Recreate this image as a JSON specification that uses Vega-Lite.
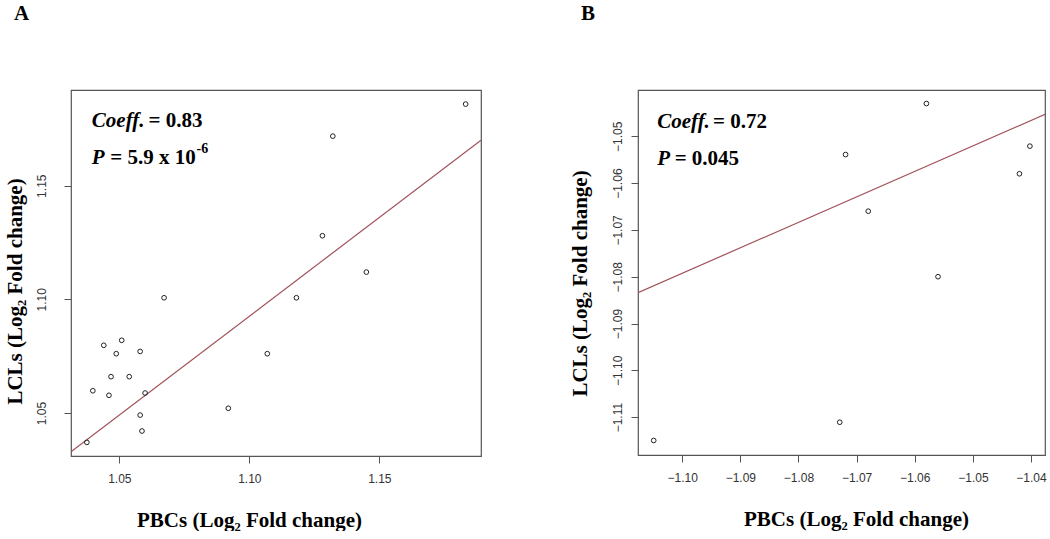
{
  "$schema": "https://vega.github.io/schema/vega-lite/v6.json",
  "background": "white",
  "padding": {"left": 3, "top": 2, "right": 0, "bottom": 0},
  "spacing": 86,
  "datasets": {
    "ptsA": [
      {"pbc": 1.1832, "lcl": 1.1859}, {"pbc": 1.1321, "lcl": 1.1718}, {"pbc": 1.1281, "lcl": 1.128},
      {"pbc": 1.145, "lcl": 1.112}, {"pbc": 1.1181, "lcl": 1.1007}, {"pbc": 1.0672, "lcl": 1.1007},
      {"pbc": 1.1069, "lcl": 1.0761}, {"pbc": 1.0919, "lcl": 1.0521}, {"pbc": 1.044, "lcl": 1.0798},
      {"pbc": 1.0509, "lcl": 1.082}, {"pbc": 1.0488, "lcl": 1.0761}, {"pbc": 1.058, "lcl": 1.0771},
      {"pbc": 1.0468, "lcl": 1.066}, {"pbc": 1.0538, "lcl": 1.066}, {"pbc": 1.0398, "lcl": 1.0598},
      {"pbc": 1.046, "lcl": 1.0578}, {"pbc": 1.0599, "lcl": 1.0588}, {"pbc": 1.058, "lcl": 1.0491},
      {"pbc": 1.0587, "lcl": 1.0421}, {"pbc": 1.0375, "lcl": 1.0371}
    ],
    "fitA": [{"pbc": 1.0314, "lcl": 1.033}, {"pbc": 1.1891, "lcl": 1.17}],
    "txtA": [
      {"part": "name", "pbc": 1.0394, "lcl": 1.1759, "t": "Coeff."},
      {"part": "value", "pbc": 1.0612, "lcl": 1.1759, "t": "= 0.83"},
      {"part": "name", "pbc": 1.0394, "lcl": 1.1595, "t": "P"},
      {"part": "value", "pbc": 1.0465, "lcl": 1.1595, "t": "= 5.9 x 10"},
      {"part": "exp", "pbc": 1.0797, "lcl": 1.1642, "t": "-6"}
    ],
    "ptsB": [
      {"pbc": -1.058, "lcl": -1.043}, {"pbc": -1.0719, "lcl": -1.0539}, {"pbc": -1.0402, "lcl": -1.0521},
      {"pbc": -1.042, "lcl": -1.058}, {"pbc": -1.068, "lcl": -1.066}, {"pbc": -1.056, "lcl": -1.08},
      {"pbc": -1.0729, "lcl": -1.1111}, {"pbc": -1.1049, "lcl": -1.115}
    ],
    "fitB": [{"pbc": -1.1076, "lcl": -1.0834}, {"pbc": -1.0376, "lcl": -1.0453}],
    "txtB": [
      {"part": "name", "pbc": -1.1043, "lcl": -1.0482, "t": "Coeff."},
      {"part": "value", "pbc": -1.0947, "lcl": -1.0482, "t": "= 0.72"},
      {"part": "name", "pbc": -1.1043, "lcl": -1.0562, "t": "P"},
      {"part": "value", "pbc": -1.1013, "lcl": -1.0562, "t": "= 0.045"}
    ]
  },
  "hconcat": [
    {
      "width": 410,
      "height": 366,
      "title": {"text": "A", "anchor": "start", "frame": "bounds", "dx": 10, "offset": 66, "font": "Liberation Serif", "fontSize": 21, "fontWeight": "bold", "color": "black"},
      "encoding": {
        "x": {"field": "pbc", "type": "quantitative",
          "scale": {"domain": [1.0314, 1.1891], "nice": false, "zero": false},
          "axis": {"title": "PBCs (Log₂ Fold change)", "values": [1.05, 1.1, 1.15], "format": ".2f", "labelPadding": 10, "titlePadding": 25, "titleX": 178}},
        "y": {"field": "lcl", "type": "quantitative",
          "scale": {"domain": [1.0311, 1.1921], "nice": false, "zero": false},
          "axis": {"title": "LCLs (Log₂ Fold change)", "values": [1.05, 1.1, 1.15], "format": ".2f", "labelAngle": -90, "labelPadding": 16, "titlePadding": 10, "titleY": 201}}
      },
      "layer": [
        {"data": {"name": "fitA"}, "mark": {"type": "line", "color": "#a0525a", "strokeWidth": 1.2, "clip": true}},
        {"data": {"name": "ptsA"}, "mark": {"type": "point", "shape": "circle", "filled": false, "size": 22, "stroke": "#222", "strokeWidth": 1, "opacity": 1}},
        {"data": {"name": "txtA"}, "transform": [{"filter": "datum.part == 'name'"}], "mark": {"type": "text", "align": "left", "baseline": "alphabetic", "font": "Liberation Serif", "fontSize": 21, "fontWeight": "bold", "fontStyle": "italic", "color": "black"}, "encoding": {"text": {"field": "t"}}},
        {"data": {"name": "txtA"}, "transform": [{"filter": "datum.part == 'value'"}], "mark": {"type": "text", "align": "left", "baseline": "alphabetic", "font": "Liberation Serif", "fontSize": 21, "fontWeight": "bold", "color": "black"}, "encoding": {"text": {"field": "t"}}},
        {"data": {"name": "txtA"}, "transform": [{"filter": "datum.part == 'exp'"}], "mark": {"type": "text", "align": "left", "baseline": "alphabetic", "font": "Liberation Serif", "fontSize": 14, "fontWeight": "bold", "color": "black"}, "encoding": {"text": {"field": "t"}}}
      ]
    },
    {
      "width": 407,
      "height": 365,
      "title": {"text": "B", "anchor": "start", "frame": "bounds", "dx": 12, "offset": 66, "font": "Liberation Serif", "fontSize": 21, "fontWeight": "bold", "color": "black"},
      "encoding": {
        "x": {"field": "pbc", "type": "quantitative",
          "scale": {"domain": [-1.1076, -1.0376], "nice": false, "zero": false},
          "axis": {"title": "PBCs (Log₂ Fold change)", "values": [-1.1, -1.09, -1.08, -1.07, -1.06, -1.05, -1.04], "format": ".2f", "labelPadding": 10, "titlePadding": 25, "titleX": 218}},
        "y": {"field": "lcl", "type": "quantitative",
          "scale": {"domain": [-1.1181, -1.0401], "nice": false, "zero": false},
          "axis": {"title": "LCLs (Log₂ Fold change)", "values": [-1.11, -1.1, -1.09, -1.08, -1.07, -1.06, -1.05], "format": ".2f", "labelAngle": -90, "labelPadding": 7, "titlePadding": 21, "titleY": 193}}
      },
      "layer": [
        {"data": {"name": "fitB"}, "mark": {"type": "line", "color": "#a0525a", "strokeWidth": 1.2, "clip": true}},
        {"data": {"name": "ptsB"}, "mark": {"type": "point", "shape": "circle", "filled": false, "size": 22, "stroke": "#222", "strokeWidth": 1, "opacity": 1}},
        {"data": {"name": "txtB"}, "transform": [{"filter": "datum.part == 'name'"}], "mark": {"type": "text", "align": "left", "baseline": "alphabetic", "font": "Liberation Serif", "fontSize": 21, "fontWeight": "bold", "fontStyle": "italic", "color": "black"}, "encoding": {"text": {"field": "t"}}},
        {"data": {"name": "txtB"}, "transform": [{"filter": "datum.part == 'value'"}], "mark": {"type": "text", "align": "left", "baseline": "alphabetic", "font": "Liberation Serif", "fontSize": 21, "fontWeight": "bold", "color": "black"}, "encoding": {"text": {"field": "t"}}}
      ]
    }
  ],
  "config": {
    "view": {"stroke": "#555", "strokeWidth": 1.2},
    "axis": {
      "grid": false,
      "domain": false,
      "tickColor": "#555",
      "tickSize": 7,
      "labelFont": "Liberation Sans",
      "labelFontSize": 12,
      "labelColor": "#333",
      "titleFont": "Liberation Serif",
      "titleFontSize": 21,
      "titleFontWeight": "bold",
      "titleColor": "black"
    }
  }
}
